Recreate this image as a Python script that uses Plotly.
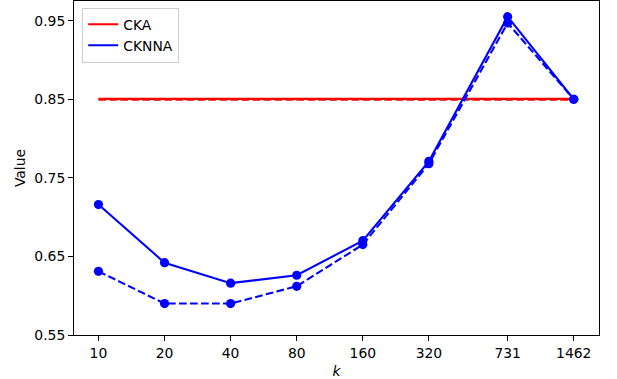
import plotly.graph_objects as go

k_values = [10, 20, 40, 80, 160, 320, 731, 1462]
k_labels = ["10", "20", "40", "80", "160", "320", "731", "1462"]
cka_solid = [0.8505] * 8
cka_dashed = [0.8495] * 8
cknna_solid = [0.716, 0.642, 0.616, 0.626, 0.670, 0.771, 0.955, 0.850]
cknna_dashed = [0.631, 0.590, 0.590, 0.612, 0.665, 0.768, 0.947, 0.850]
y_ticks = [0.55, 0.65, 0.75, 0.85, 0.95]

RED = "#ff0000"
BLUE = "#0000ff"
LW = 2.08
DASH = "7.7px,3.3px"
FONT = "DejaVu Sans, Liberation Sans, sans-serif"

fig = go.Figure()
fig.add_trace(go.Scatter(x=k_values, y=cka_solid, mode="lines",
                         line=dict(color=RED, width=LW), showlegend=False))
fig.add_trace(go.Scatter(x=k_values, y=cka_dashed, mode="lines",
                         line=dict(color=RED, width=LW, dash=DASH), showlegend=False))
fig.add_trace(go.Scatter(x=k_values, y=cknna_solid, mode="lines+markers",
                         line=dict(color=BLUE, width=LW),
                         marker=dict(color=BLUE, size=9.2), showlegend=False))
fig.add_trace(go.Scatter(x=k_values, y=cknna_dashed, mode="lines+markers",
                         line=dict(color=BLUE, width=LW, dash=DASH),
                         marker=dict(color=BLUE, size=9.2), showlegend=False))
# legend entries (lines only, as in the reference)
fig.add_trace(go.Scatter(x=[None], y=[None], mode="lines", name="CKA",
                         line=dict(color=RED, width=LW)))
fig.add_trace(go.Scatter(x=[None], y=[None], mode="lines", name="CKNNA",
                         line=dict(color=BLUE, width=LW)))

axis_common = dict(showline=True, linecolor="black", linewidth=1.1, mirror=True,
                   ticks="outside", ticklen=4.9, tickwidth=1.1, tickcolor="black",
                   showgrid=False, zeroline=False,
                   tickfont=dict(family=FONT, size=13.9, color="black"))

fig.update_layout(
    width=617, height=379,
    margin=dict(l=73.5, r=18, t=1, b=44),
    paper_bgcolor="white", plot_bgcolor="white",
    font=dict(family=FONT, size=13.9, color="black"),
    xaxis=dict(type="log", range=[0.8886, 3.280], tickvals=k_values, ticktext=k_labels,
               title=dict(text="<i>k</i>", standoff=6, font=dict(family=FONT, size=13.9)),
               **axis_common),
    yaxis=dict(range=[0.55, 0.975], tickvals=y_ticks, ticktext=["0.55", "0.65", "0.75", "0.85", "0.95"],
               title=dict(text="Value", standoff=5, font=dict(family=FONT, size=13.9)),
               **axis_common),
    legend=dict(x=0.0156, y=0.98, xanchor="left", yanchor="top",
                bgcolor="rgba(255,255,255,0.8)", bordercolor="#cccccc", borderwidth=1,
                font=dict(family=FONT, size=13.9, color="black"),
                itemwidth=30, tracegroupgap=0),
)

fig.write_html("out.html", config={"displayModeBar": False},
               post_script="document.body.style.margin='0px';")
